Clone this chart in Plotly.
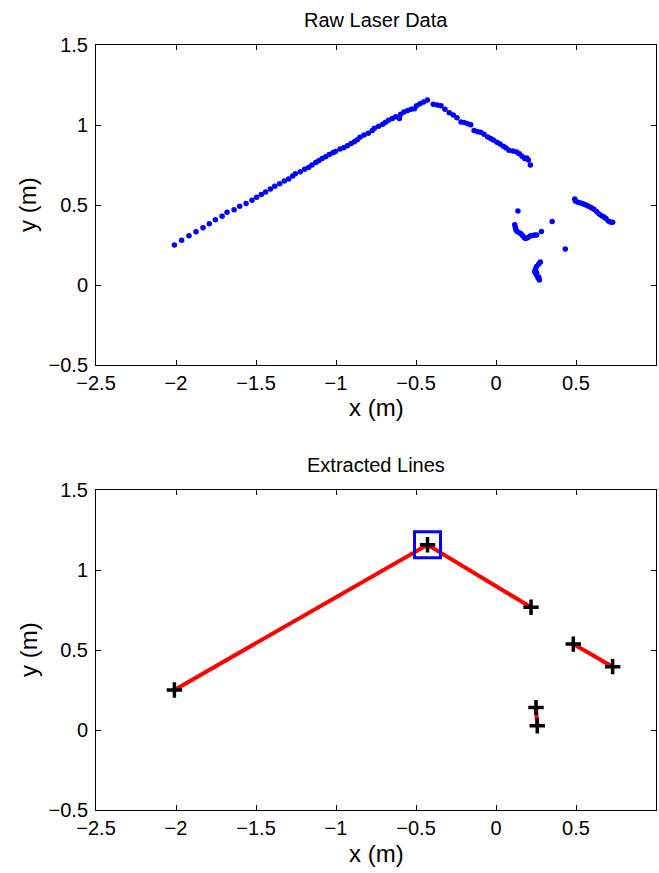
import plotly.graph_objects as go

# Raw laser scan points (metres)
raw_x = [
    -2.010, -1.965, -1.919, -1.875, -1.831, -1.792, -1.754, -1.712, -1.681, -1.637,
    -1.602, -1.562, -1.525, -1.496, -1.467, -1.440, -1.410, -1.383, -1.352, -1.323,
    -1.296, -1.271, -1.254, -1.223, -1.196, -1.171, -1.150, -1.127, -1.108, -1.087,
    -1.065, -1.042, -1.019, -1.004, -0.975, -0.952, -0.929, -0.906, -0.885, -0.867,
    -0.850, -0.825, -0.798, -0.773, -0.760, -0.733, -0.708, -0.690, -0.671, -0.648,
    -0.627, -0.604, -0.596, -0.575, -0.552, -0.531, -0.510, -0.496, -0.475, -0.452,
    -0.429,
    -0.392, -0.367, -0.344, -0.319, -0.292, -0.267, -0.244, -0.219, -0.198, -0.177,
    -0.158, -0.137, -0.115, -0.096, -0.075, -0.052, -0.033, -0.017, 0.006, 0.025,
    0.046, 0.063, 0.081, 0.106, 0.129, 0.146, 0.163, 0.179, 0.192, 0.202, 0.215,
    0.137, 0.117, 0.121, 0.125, 0.133, 0.146, 0.156, 0.167, 0.177, 0.185, 0.198,
    0.213, 0.227, 0.242, 0.254, 0.284, 0.351, 0.433,
    0.277, 0.267, 0.254, 0.246, 0.242, 0.254, 0.250, 0.258, 0.267, 0.263, 0.271,
    0.492, 0.496, 0.512, 0.529, 0.546, 0.562, 0.579, 0.596, 0.612, 0.629, 0.644,
    0.660, 0.675, 0.687, 0.702, 0.717, 0.729,
]
raw_y = [
    0.250, 0.279, 0.308, 0.333, 0.358, 0.383, 0.408, 0.429, 0.454, 0.471,
    0.492, 0.510, 0.529, 0.548, 0.565, 0.581, 0.600, 0.617, 0.633, 0.650,
    0.662, 0.681, 0.696, 0.708, 0.723, 0.735, 0.750, 0.765, 0.777, 0.790,
    0.802, 0.815, 0.827, 0.835, 0.850, 0.858, 0.871, 0.885, 0.896, 0.908,
    0.923, 0.938, 0.948, 0.965, 0.979, 0.992, 1.004, 1.017, 1.029, 1.040,
    1.052, 1.040, 1.067, 1.081, 1.090, 1.098, 1.102, 1.121, 1.133, 1.144,
    1.156,
    1.129, 1.125, 1.121, 1.098, 1.077, 1.063, 1.046, 1.019, 1.015, 1.008,
    1.002, 0.965, 0.958, 0.954, 0.942, 0.925, 0.915, 0.906, 0.892, 0.881,
    0.867, 0.856, 0.842, 0.838, 0.831, 0.821, 0.804, 0.790, 0.794, 0.781, 0.750,
    0.463, 0.377, 0.360, 0.344, 0.335, 0.327, 0.321, 0.308, 0.296, 0.290, 0.296,
    0.306, 0.310, 0.313, 0.313, 0.335, 0.397, 0.225,
    0.144, 0.131, 0.115, 0.098, 0.083, 0.077, 0.069, 0.056, 0.048, 0.044, 0.031,
    0.537, 0.525, 0.517, 0.512, 0.506, 0.500, 0.492, 0.483, 0.473, 0.460, 0.444,
    0.433, 0.425, 0.415, 0.400, 0.392, 0.392,
]

# Extracted line segments (None separates segments)
seg_x = [-2.010, -0.428, 0.219, None, 0.483, 0.729, None, 0.250, 0.258]
seg_y = [0.250, 1.158, 0.767, None, 0.537, 0.396, None, 0.140, 0.027]

# Segment endpoints
end_x = [-2.010, -0.428, 0.219, 0.483, 0.729, 0.250, 0.258]
end_y = [0.250, 1.158, 0.767, 0.537, 0.396, 0.140, 0.027]

# Highlighted corner
corner_x = [-0.428]
corner_y = [1.158]

x_ticks = [-2.5, -2, -1.5, -1, -0.5, 0, 0.5, 1]
y_ticks = [-0.5, 0, 0.5, 1, 1.5]

FONT = "Liberation Sans, Arial, sans-serif"
TICK_SIZE = 20
LABEL_SIZE = 24
TITLE_SIZE = 20


def fmt(v):
    return f"{v:g}".replace("-", "\u2212")


fig = go.Figure()

fig.add_trace(go.Scatter(
    x=raw_x, y=raw_y, mode="markers", xaxis="x", yaxis="y",
    marker=dict(color="#0000ff", size=5.5, line=dict(width=0)),
    showlegend=False, hoverinfo="x+y",
))

fig.add_trace(go.Scatter(
    x=seg_x, y=seg_y, mode="lines", xaxis="x2", yaxis="y2",
    line=dict(color="#ff0000", width=4), showlegend=False,
))
fig.add_trace(go.Scatter(
    x=end_x, y=end_y, mode="markers", xaxis="x2", yaxis="y2",
    marker=dict(symbol="cross-thin-open", size=11, color="black",
                line=dict(color="black", width=3.5)),
    showlegend=False,
))
fig.add_trace(go.Scatter(
    x=corner_x, y=corner_y, mode="markers", xaxis="x2", yaxis="y2",
    marker=dict(symbol="square-open", size=26, color="#0000ff",
                line=dict(color="#0000ff", width=3)),
    showlegend=False,
))

axis_common = dict(
    showgrid=False, zeroline=False, showline=True, linecolor="black",
    linewidth=1, mirror="ticks", ticks="inside", ticklen=5, tickwidth=1,
    tickcolor="black", tickfont=dict(family=FONT, size=TICK_SIZE, color="black"),
    automargin=False,
)

top_dom = [(810 - 365) / 765, 1.0]
bot_dom = [0.0, (810 - 490) / 765]

xaxis_cfg = dict(axis_common, range=[-2.5, 1], tickvals=x_ticks,
                 ticktext=[fmt(v) for v in x_ticks], domain=[0, 1])
yaxis_cfg = dict(axis_common, range=[-0.5, 1.5], tickvals=y_ticks,
                 ticktext=[fmt(v) for v in y_ticks], ticklabelstandoff=3)

annotations = []
for dom, title in ((top_dom, "Raw Laser Data"), (bot_dom, "Extracted Lines")):
    annotations.append(dict(
        text=title, x=0.5, y=dom[1], xref="paper", yref="paper",
        xanchor="center", yanchor="middle", yshift=25, showarrow=False,
        font=dict(family=FONT, size=TITLE_SIZE)))
    annotations.append(dict(
        text="x (m)", x=0.5, y=dom[0], xref="paper", yref="paper",
        xanchor="center", yanchor="middle", yshift=-43, showarrow=False,
        font=dict(family=FONT, size=LABEL_SIZE)))
    annotations.append(dict(
        text="y (m)", x=0, y=(dom[0] + dom[1]) / 2, xref="paper", yref="paper",
        xanchor="center", yanchor="middle", xshift=-68, textangle=-90,
        showarrow=False, font=dict(family=FONT, size=LABEL_SIZE)))

fig.update_layout(
    width=659, height=873,
    margin=dict(l=96, r=3, t=45, b=63),
    paper_bgcolor="white", plot_bgcolor="white",
    font=dict(family=FONT, color="black"),
    xaxis=dict(xaxis_cfg, anchor="y"),
    yaxis=dict(yaxis_cfg, anchor="x", domain=top_dom),
    xaxis2=dict(xaxis_cfg, anchor="y2"),
    yaxis2=dict(yaxis_cfg, anchor="x2", domain=bot_dom),
    annotations=annotations,
)

fig.write_html("out.html")
